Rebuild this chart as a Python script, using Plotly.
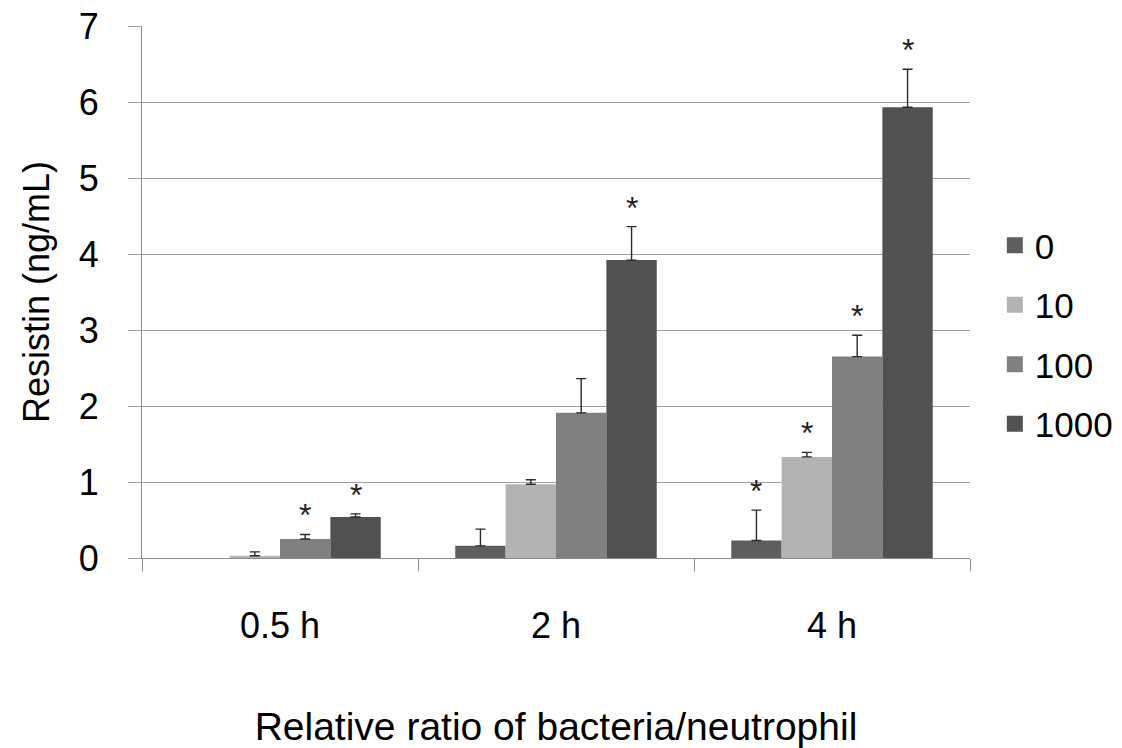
import plotly.graph_objects as go

categories = ["0.5 h", "2 h", "4 h"]
series_names = ["0", "10", "100", "1000"]
means = {
    "0": [0.0, 0.16, 0.23],
    "10": [0.03, 0.97, 1.33],
    "100": [0.25, 1.91, 2.65],
    "1000": [0.54, 3.92, 5.93],
}
errors = {
    "0": [0.0, 0.22, 0.40],
    "10": [0.05, 0.06, 0.06],
    "100": [0.06, 0.45, 0.28],
    "1000": [0.04, 0.44, 0.50],
}
significant = {
    "0": [False, False, True],
    "10": [False, False, True],
    "100": [True, False, True],
    "1000": [True, True, True],
}
colors = {"0": "#5e5e5e", "10": "#b3b3b3", "100": "#808080", "1000": "#515151"}

FONT = "Liberation Sans, Arial, sans-serif"
bargap = 0.27
bar_w = (1 - bargap) / len(series_names)

fig = go.Figure()
for j, s in enumerate(series_names):
    # zero-height bars are left undrawn (no mark, no error cap), as in the original
    y_vals = [m if m > 0 else None for m in means[s]]
    fig.add_trace(go.Bar(
        x=categories, y=y_vals, name=s, showlegend=False,
        marker=dict(color=colors[s], line=dict(width=0)),
        error_y=dict(type="data", array=errors[s], arrayminus=[0] * 3,
                     symmetric=False, color="#2a2a2a", thickness=1.4, width=5),
    ))
    # legend proxy
    fig.add_trace(go.Scatter(
        x=[None], y=[None], mode="markers", name=s, legendgroup=s,
        marker=dict(symbol="square", size=22, color=colors[s]),
    ))
    for i, c in enumerate(categories):
        if significant[s][i]:
            top = means[s][i] + errors[s][i]
            fig.add_annotation(
                x=i + (j - 1.5) * bar_w, y=top + 0.25,
                xref="x", yref="y", text="*", showarrow=False,
                yanchor="middle", font=dict(size=32, color="#222222", family=FONT),
            )

fig.update_layout(
    width=1122, height=748,
    margin=dict(l=142, r=152, t=26, b=190, autoexpand=False),
    paper_bgcolor="white", plot_bgcolor="white",
    barmode="group", bargap=bargap, bargroupgap=0,
    font=dict(family=FONT, size=36, color="#000000"),
    legend=dict(x=1.03, y=0.42, xanchor="left", yanchor="middle",
                font=dict(size=35, family=FONT), tracegroupgap=11,
                itemwidth=30, bgcolor="rgba(0,0,0,0)"),
    xaxis=dict(
        automargin=False,
        showgrid=False, showline=True, linecolor="#8c8c8c", linewidth=1,
        ticks="outside", tickson="boundaries", ticklen=12, tickcolor="#8c8c8c",
        tickfont=dict(size=36), ticklabelstandoff=36,
        title=dict(text="Relative ratio of bacteria/neutrophil", font=dict(size=39), standoff=74),
    ),
    yaxis=dict(
        automargin=False,
        range=[0, 7], dtick=1, showgrid=True, gridcolor="#a0a0a0", gridwidth=1,
        showline=True, linecolor="#8c8c8c", linewidth=1, zeroline=False,
        ticks="outside", ticklen=13, tickcolor="#a0a0a0",
        tickfont=dict(size=36), ticklabelstandoff=22,
        title=dict(text="Resistin (ng/mL)", font=dict(size=36), standoff=18),
    ),
)

fig.write_html("out.html")
